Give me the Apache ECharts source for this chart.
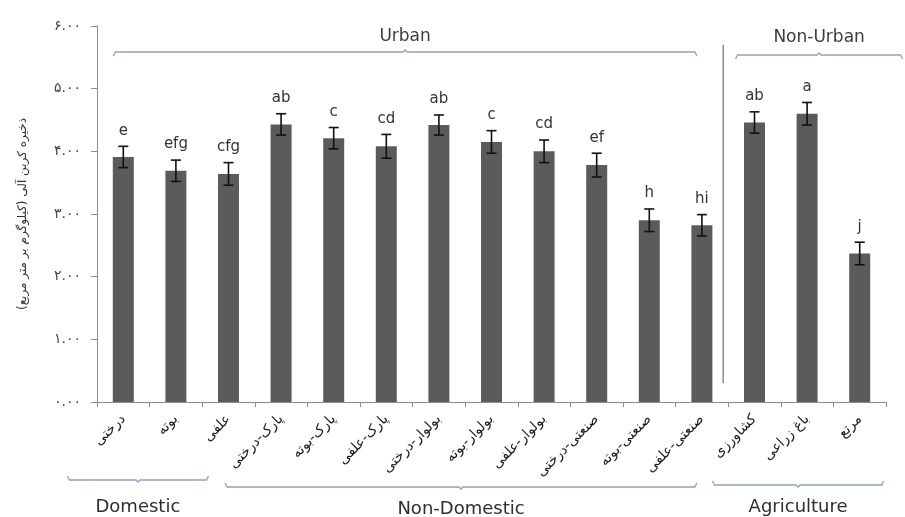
<!DOCTYPE html>
<html>
<head>
<meta charset="utf-8">
<script src="https://cdn.jsdelivr.net/npm/echarts@6/dist/echarts.min.js"></script>
<style>
  html, body { margin: 0; padding: 0; background: #ffffff; }
  #chart { width: 905px; height: 517px; }
</style>
</head>
<body>
<div id="chart"></div>
<script>
// Land-use categories (x axis)
const categories = [
  'درختی', 'بوته', 'علفی',
  'پارک-درختی', 'پارک-بوته', 'پارک-علفی',
  'بولوار-درختی', 'بولوار-بوته', 'بولوار-علفی',
  'صنعتی-درختی', 'صنعتی-بوته', 'صنعتی-علفی',
  'کشاورزی', 'باغ زراعی', 'مرتع'
];
// Mean soil organic carbon stock (kg / m²)
const means = [3.91, 3.69, 3.64, 4.43, 4.21, 4.08, 4.42, 4.15, 4.00, 3.78, 2.90, 2.82, 4.46, 4.60, 2.37];
// Standard error (half-length of each error bar)
const errors = [0.17, 0.17, 0.18, 0.17, 0.17, 0.19, 0.16, 0.18, 0.18, 0.19, 0.18, 0.17, 0.17, 0.18, 0.18];
// Significance letters shown above each bar
const letters = ['e', 'efg', 'cfg', 'ab', 'c', 'cd', 'ab', 'c', 'cd', 'ef', 'h', 'hi', 'ab', 'a', 'j'];
// Y tick labels in Persian digits
const yTicks = ['۰.۰۰', '۱.۰۰', '۲.۰۰', '۳.۰۰', '۴.۰۰', '۵.۰۰', '۶.۰۰'];
const yTitle = 'ذخیره کربن آلی (کیلوگرم بر متر مربع)';
// Category groups: first and last category index of each group
const topGroupNames = ['Urban', 'Non-Urban'];
const topGroupFrom = [0, 12];
const topGroupTo = [11, 14];
const bottomGroupNames = ['Domestic', 'Non-Domestic', 'Agriculture'];
const bottomGroupFrom = [0, 3, 12];
const bottomGroupTo = [2, 11, 14];

// Drawing layout for the group brackets (pixel offsets from bar centres)
const topLayout = [
  { left: -10, right: -5, lineY: 52, textY: 37 },
  { left: -19, right: 43, lineY: 55, textY: 38 }
];
const bottomLayout = [
  { left: -56, right: -20, lineY: 480, textY: 507 },
  { left: -56, right: -5, lineY: 487, textY: 509 },
  { left: -42, right: 24, lineY: 485, textY: 507 }
];

const chart = echarts.init(document.getElementById('chart'), null, { renderer: 'canvas' });

const FONT = '"DejaVu Sans", sans-serif';

chart.setOption({
  animation: false,
  backgroundColor: '#ffffff',
  grid: { left: 97, right: 19, top: 26, bottom: 115, containLabel: false },
  xAxis: {
    type: 'category',
    data: categories,
    axisLine: { show: true, lineStyle: { color: '#8c8c8c', width: 1 } },
    axisTick: { show: true, interval: 0, length: 5, lineStyle: { color: '#8c8c8c' } },
    axisLabel: {
      interval: 0,
      rotate: 45,
      margin: 15,
      fontFamily: FONT,
      fontSize: 14,
      color: '#1a1a1a'
    },
    splitLine: { show: false }
  },
  yAxis: {
    type: 'value',
    min: 0,
    max: 6,
    interval: 1,
    name: yTitle,
    nameLocation: 'middle',
    nameRotate: 90,
    nameGap: 68,
    nameTextStyle: { fontFamily: FONT, fontSize: 12, color: '#333333' },
    axisLine: { show: true, lineStyle: { color: '#8c8c8c', width: 1 } },
    axisTick: { show: true, length: 6, lineStyle: { color: '#8c8c8c' } },
    axisLabel: {
      margin: 16,
      fontFamily: FONT,
      fontSize: 14,
      color: '#444444',
      formatter: v => yTicks[Math.round(v)]
    },
    splitLine: { show: false }
  },
  series: [
    {
      type: 'bar',
      data: means,
      barWidth: 21,
      itemStyle: { color: '#5b5b5b' },
      z: 2
    },
    {
      type: 'custom',
      data: means.map((m, i) => [i, m, errors[i]]),
      encode: { x: 0, y: 1 },
      z: 3,
      renderItem: (params, api) => {
        const i = api.value(0);
        const m = api.value(1);
        const e = api.value(2);
        const top = api.coord([i, m + e]);
        const bot = api.coord([i, m - e]);
        const hw = 5;
        const stroke = { stroke: '#111111', lineWidth: 1.6 };
        return {
          type: 'group',
          children: [
            { type: 'line', shape: { x1: top[0], y1: top[1], x2: bot[0], y2: bot[1] }, style: stroke },
            { type: 'line', shape: { x1: top[0] - hw, y1: top[1], x2: top[0] + hw, y2: top[1] }, style: stroke },
            { type: 'line', shape: { x1: bot[0] - hw, y1: bot[1], x2: bot[0] + hw, y2: bot[1] }, style: stroke },
            {
              type: 'text',
              x: top[0],
              y: top[1] - 8,
              style: {
                text: letters[params.dataIndex],
                align: 'center',
                verticalAlign: 'bottom',
                fontFamily: FONT,
                fontSize: 15,
                fill: '#333333'
              }
            }
          ]
        };
      }
    }
  ]
});

// Group brackets and the urban / non-urban divider
function centre(i) {
  return chart.convertToPixel({ gridIndex: 0 }, [i, 0])[0];
}
const graphics = [];
const bracketColor = '#8ea3bf';

topGroupNames.forEach((name, g) => {
  const L = topLayout[g];
  const x1 = centre(topGroupFrom[g]) + L.left;
  const x2 = centre(topGroupTo[g]) + L.right;
  const xm = (x1 + x2) / 2;
  const y = L.lineY;
  graphics.push({
    type: 'polyline',
    shape: { points: [[x1, y + 4], [x1 + 2, y], [xm - 2, y], [xm, y - 2], [xm + 2, y], [x2 - 2, y], [x2, y + 4]] },
    style: { stroke: bracketColor, lineWidth: 1.3, fill: null }
  });
  graphics.push({
    type: 'text', x: xm, y: L.textY,
    style: { text: name, align: 'center', verticalAlign: 'middle', fontFamily: FONT, fontSize: 17, fill: '#3c3c3c' }
  });
});

bottomGroupNames.forEach((name, g) => {
  const L = bottomLayout[g];
  const x1 = centre(bottomGroupFrom[g]) + L.left;
  const x2 = centre(bottomGroupTo[g]) + L.right;
  const xm = (x1 + x2) / 2;
  const y = L.lineY;
  graphics.push({
    type: 'polyline',
    shape: { points: [[x1, y - 4], [x1 + 2, y], [xm - 2, y], [xm, y + 2], [xm + 2, y], [x2 - 2, y], [x2, y - 4]] },
    style: { stroke: bracketColor, lineWidth: 1.3, fill: null }
  });
  graphics.push({
    type: 'text', x: xm, y: L.textY,
    style: { text: name, align: 'center', verticalAlign: 'middle', fontFamily: FONT, fontSize: 18, fill: '#2e2e2e' }
  });
});

// Vertical divider between urban and non-urban groups
const divX = (centre(11) + centre(12)) / 2 - 5;
const divTop = chart.convertToPixel({ gridIndex: 0 }, [0, 5.7])[1];
const divBot = chart.convertToPixel({ gridIndex: 0 }, [0, 0.3])[1];
graphics.push({
  type: 'line',
  shape: { x1: divX, y1: divTop, x2: divX, y2: divBot },
  style: { stroke: '#8a8a8a', lineWidth: 1.5 }
});

chart.setOption({ graphic: graphics });
</script>
</body>
</html>
